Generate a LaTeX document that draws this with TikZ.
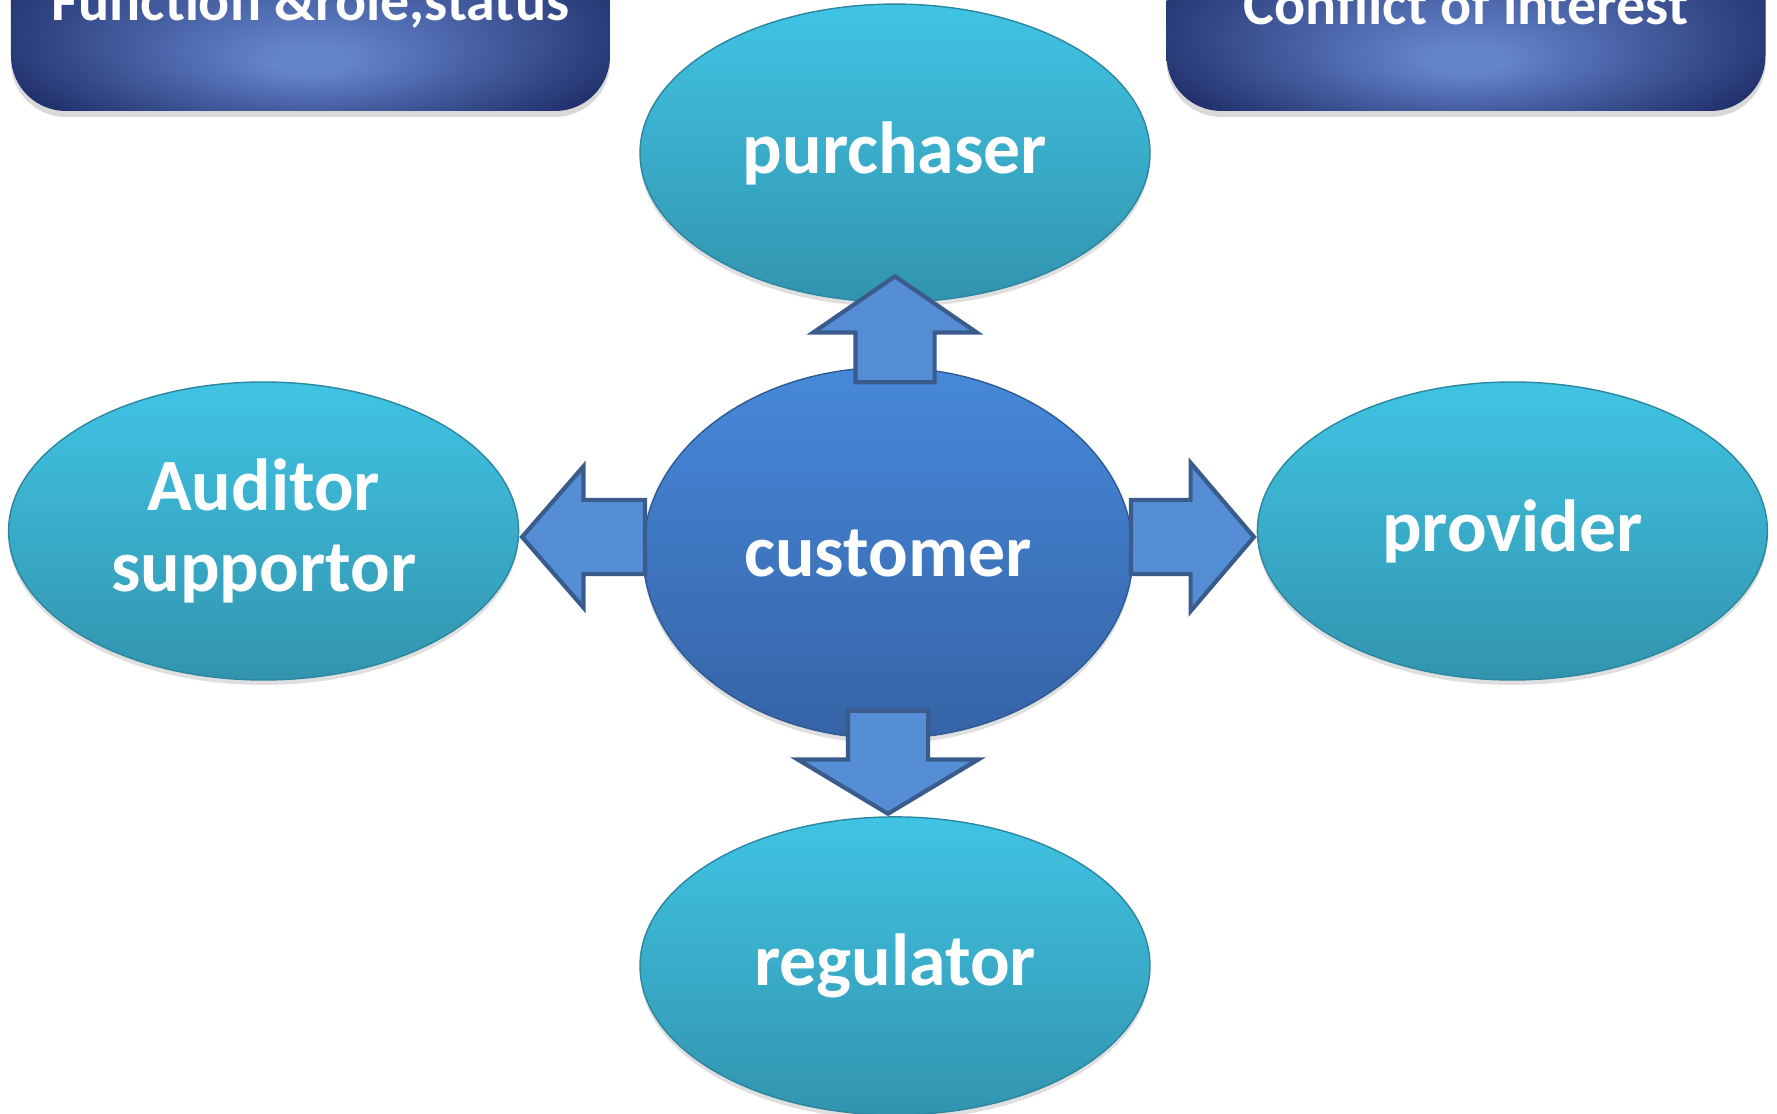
\documentclass[tikz,border=0pt]{standalone}
\usepackage{fontspec}
\setmainfont{Carlito}
\usetikzlibrary{positioning,shapes.geometric,shapes.arrows,shadows}
\definecolor{boxdark}{HTML}{1A2862}
\definecolor{boxlight}{HTML}{6484CC}
\definecolor{cyantop}{HTML}{40C4E4}
\definecolor{cyanbot}{HTML}{3294AE}
\definecolor{cyanline}{HTML}{2C86A0}
\definecolor{bluetop}{HTML}{4789DA}
\definecolor{bluebot}{HTML}{3563A6}
\definecolor{blueline}{HTML}{2E5A94}
\definecolor{arrowfill}{HTML}{558ED5}
\definecolor{arrowline}{HTML}{3A5C8C}
\pgfdeclareradialshading{boxglow}{\pgfpoint{0bp}{-14bp}}{%
  color(0bp)=(boxlight); color(3bp)=(boxlight);
  color(31bp)=(boxdark); color(50bp)=(boxdark)}
\tikzset{main base/.style={text=white,align=center,inner sep=0pt,
    font=\fontsize{21}{23}\selectfont\bfseries}, }
\tikzset{main node/.style={ellipse,draw=cyanline,thin,main base,
    top color=cyantop,bottom color=cyanbot,
    minimum width=5.1cm,minimum height=2.98cm,
    drop shadow={opacity=0.25,shadow xshift=0pt,shadow yshift=-0.05cm}}, }
\tikzset{main node2/.style={main node,draw=blueline,
    top color=bluetop,bottom color=bluebot,
    minimum width=4.9cm,minimum height=3.71cm}, }
\tikzset{title node/.style={rectangle,rounded corners=0.55cm,main base,
    shading=boxglow,
    font=\fontsize{16.5}{18}\selectfont\bfseries,
    minimum width=5.99cm,minimum height=2.14cm,
    drop shadow={opacity=0.3,shadow xshift=0pt,shadow yshift=-0.06cm}}, }
\tikzset{linea/.style={single arrow,draw=arrowline,line width=1.2pt,
    fill=arrowfill,inner xsep=0pt,anchor=tip}}

\begin{document}
\begin{tikzpicture}
\useasboundingbox (0,0) rectangle (17.77,11.14);

\node[title node] (6) at (3.105,11.10) {Function \&role,status};
\node[title node] (7) at (14.66,11.10) {Conflict of interest};

\node[main node2] (1) at (8.88,5.61) {customer};
\node[main node] (2) [above=0.64cm of 1, xshift=0.07cm] {purchaser};
\node[main node] (3) [left=1.23cm of 1, yshift=0.22cm] {Auditor\\supportor};
\node[main node] (4) [right=1.23cm of 1, yshift=0.22cm] {provider};
\node[main node] (5) [below=0.77cm of 1, xshift=0.07cm] {regulator};

% block arrows from the customer
\node[linea,rotate=90,minimum height=1.06cm,inner ysep=0.375cm,
  single arrow head extend=0.42cm,single arrow tip angle=111]
  (12) at ([yshift=0.29cm]2.south) {};
\node[linea,rotate=180,minimum height=1.23cm,inner ysep=0.35cm,
  single arrow head extend=0.335cm,single arrow tip angle=98]
  (13) at ([yshift=-0.06cm]3.east) {};
\node[linea,minimum height=1.23cm,inner ysep=0.35cm,
  single arrow head extend=0.37cm,single arrow tip angle=99]
  (14) at ([yshift=-0.06cm]4.west) {};
\node[linea,rotate=-90,minimum height=1.03cm,inner ysep=0.38cm,
  single arrow head extend=0.5cm,single arrow tip angle=118]
  (15) at ([xshift=-0.07cm]5.north) {};
\end{tikzpicture}
\end{document}
